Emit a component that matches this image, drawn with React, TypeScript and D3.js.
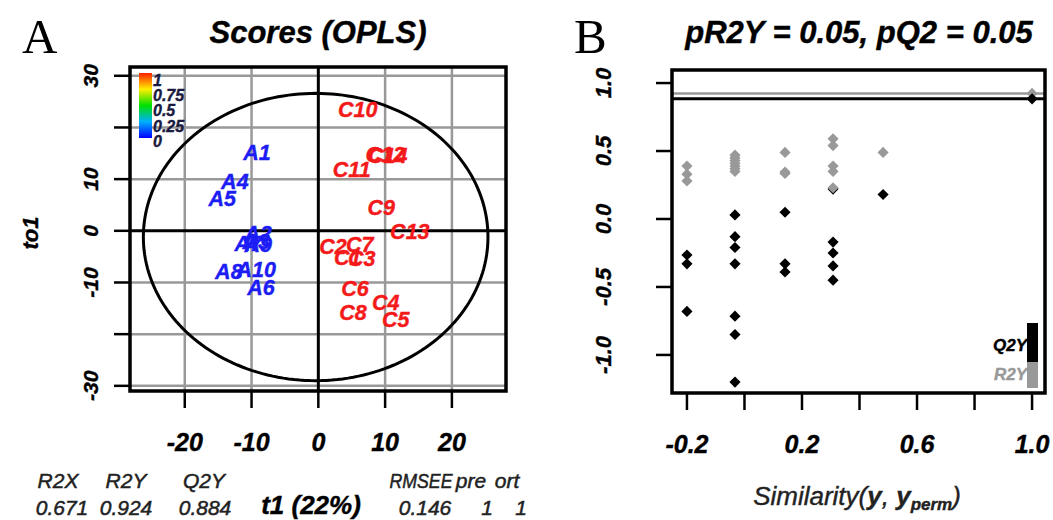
import React from "react";
import * as d3 from "d3";

// ---------- Panel A data (OPLS scores) ----------
const aNames = ["A1", "A2", "A3", "A4", "A5", "A6", "A7", "A8", "A9", "A10"];
const aT1 = [-9.2, -9.0, -9.3, -12.5, -14.4, -8.6, -10.5, -13.4, -9.0, -9.3];
const aTo1 = [15.1, -0.6, -2.2, 9.4, 6.2, -11.1, -2.6, -8.0, -2.7, -7.6];

const cNames = ["C1", "C2", "C3", "C4", "C5", "C6", "C7", "C8", "C9", "C10", "C11", "C12", "C13", "C14"];
const cT1 = [4.4, 2.2, 6.5, 10.1, 11.6, 5.5, 6.2, 5.2, 9.4, 5.9, 5.0, 10.0, 13.7, 10.4];
const cTo1 = [-5.3, -3.1, -5.5, -14.0, -17.3, -11.3, -2.7, -15.9, 4.4, 23.4, 11.8, 14.7, -0.2, 14.5];

const aXTicks = [-20, -10, 0, 10, 20];
const aYTicks = [30, 20, 10, 0, -10, -20, -30];
const aYTickLabels = ["30", "", "10", "0", "-10", "", "-30"];
const colorbarLabels = ["1", "0.75", "0.5", "0.25", "0"];
const ellipse = { cx: -0.4, cy: -1.2, rx: 25.8, ry: 27.8 };

const statHeaders = ["R2X", "R2Y", "Q2Y"];
const statValues = ["0.671", "0.924", "0.884"];
const rightHeaders = ["RMSEE", "pre", "ort"];
const rightValues = ["0.146", "1", "1"];

// ---------- Panel B data (permutation test) ----------
const permSim = [-0.2, -0.2, -0.2, -0.033, -0.033, -0.033, -0.033, -0.033, -0.033, -0.033, 0.141, 0.141, 0.141, 0.308, 0.308, 0.308, 0.308, 0.308, 0.482];
const permR2Y = [0.39, 0.33, 0.28, 0.47, 0.45, 0.43, 0.41, 0.39, 0.37, 0.35, 0.49, 0.345, 0.335, 0.59, 0.54, 0.39, 0.35, 0.23, 0.49];
const permQ2Y = [-0.265, -0.33, -0.68, 0.03, -0.13, -0.21, -0.33, -0.715, -0.85, -1.2, 0.05, -0.33, -0.39, 0.22, -0.17, -0.25, -0.345, -0.45, 0.18];
const modelSim = 1.0;
const modelR2Y = 0.924;
const modelQ2Y = 0.884;
const bXTicks = [-0.2, 0.0, 0.2, 0.4, 0.6, 0.8, 1.0];
const bXLabels = ["-0.2", "", "0.2", "", "0.6", "", "1.0"];
const bYTicks = [1.0, 0.5, 0.0, -0.5, -1.0];
const bYLabels = ["1.0", "0.5", "0.0", "-0.5", "-1.0"];

const SANS = "'Liberation Sans', Arial, sans-serif";
const SERIF = "'Liberation Serif', 'Times New Roman', serif";

type TP = {
  x: number; y: number; size: number; children: React.ReactNode;
  anchor?: string; weight?: string; italic?: boolean; fill?: string; rotate?: number; family?: string; baseline?: string;
  sw?: number; len?: number;
};
const T = ({ x, y, size, children, anchor = "middle", weight = "bold", italic = true, fill = "#000", rotate = 0, family = SANS, baseline, sw = 0.4, len }: TP) => (
  <text
    transform={`translate(${x},${y}) rotate(${rotate})`}
    fontSize={size}
    fontFamily={family}
    fontWeight={weight}
    fontStyle={italic ? "italic" : "normal"}
    textAnchor={anchor}
    fill={fill}
    stroke={fill}
    strokeWidth={sw}
    dominantBaseline={baseline}
    textLength={len}
    lengthAdjust={len ? "spacingAndGlyphs" : undefined}
  >
    {children}
  </text>
);

export default function App() {
  // Panel A scales
  const xA = d3.scaleLinear().domain([-28.2, 28.1]).range([130, 506]);
  const yA = d3.scaleLinear().domain([-31, 31.7]).range([391, 67]);
  const [aL, aR] = xA.range();
  const [aB, aT] = yA.range();

  const ellPts = d3.range(0, 201).map((i) => {
    const a = (i / 200) * Math.PI * 2;
    return [xA(ellipse.cx + ellipse.rx * Math.cos(a)), yA(ellipse.cy + ellipse.ry * Math.sin(a))] as [number, number];
  });
  const ellPath = d3.line()(ellPts) || "";

  // colour bar
  const cbY = d3.scaleLinear().domain([0, 1]).range([138, 73]);
  const cbColors = d3.scaleLinear<string>().domain([0, 0.25, 0.5, 0.75, 1]).range(["#0000ff", "#00b0ff", "#00e000", "#ffee00", "#ff2000"]);

  // Panel B scales
  const xB = d3.scaleLinear().domain([-0.252, 1.045]).range([672, 1045]);
  const yB = d3.scaleLinear().domain([-1.28, 1.096]).range([393, 70]);
  const [bL, bR] = xB.range();
  const [bB, bT] = yB.range();
  const diamond = d3.symbol().type(d3.symbolSquare).size(62)() || "";

  const Dia = ({ x, y, fill }: { x: number; y: number; fill: string }) => (
    <path d={diamond} transform={`translate(${x},${y}) rotate(45)`} fill={fill} />
  );

  return (
    <svg width={1053} height={520} style={{ position: "absolute", left: 0, top: 0, background: "#fff" }}>
      <defs>
        <linearGradient id="cb" x1="0" y1="1" x2="0" y2="0">
          {[0, 0.25, 0.5, 0.75, 1].map((v) => (
            <stop key={v} offset={v} stopColor={cbColors(v)} />
          ))}
        </linearGradient>
      </defs>
      <rect width={1053} height={520} fill="#fff" />

      {/* ================= Panel A ================= */}
      <T x={22} y={53} size={49} family={SERIF} weight="normal" italic={false} anchor="start" sw={0}>A</T>
      <T x={318} y={43} size={31}>Scores (OPLS)</T>

      {/* grid */}
      {aXTicks.filter((t) => t !== 0).map((t) => (
        <line key={"gx" + t} x1={xA(t)} x2={xA(t)} y1={aT} y2={aB} stroke="#999" strokeWidth={2.5} />
      ))}
      {aYTicks.filter((t) => t !== 0).map((t) => (
        <line key={"gy" + t} x1={aL} x2={aR} y1={yA(t)} y2={yA(t)} stroke="#999" strokeWidth={2.5} />
      ))}
      <line x1={xA(0)} x2={xA(0)} y1={aT} y2={aB} stroke="#000" strokeWidth={3} />
      <line x1={aL} x2={aR} y1={yA(0)} y2={yA(0)} stroke="#000" strokeWidth={3} />

      {/* ellipse */}
      <path d={ellPath} fill="none" stroke="#000" strokeWidth={3} />

      {/* colour bar */}
      <rect x={139} y={cbY(1)} width={13} height={cbY(0) - cbY(1)} fill="url(#cb)" />
      {colorbarLabels.map((l, i) => (
        <T key={l} x={153} y={80 + i * 15.2 + 6} size={16} anchor="start" fill="#1a1a40">{l}</T>
      ))}

      {/* box */}
      <rect x={aL} y={aT} width={aR - aL} height={aB - aT} fill="none" stroke="#000" strokeWidth={3.5} />

      {/* labels */}
      {aNames.map((n, i) => (
        <T key={n} x={xA(aT1[i])} y={yA(aTo1[i])} size={21.5} fill="#1c1cf5" baseline="central">{n}</T>
      ))}
      {cNames.map((n, i) => (
        <T key={n} x={xA(cT1[i])} y={yA(cTo1[i])} size={21.5} fill="#f51a1a" baseline="central">{n}</T>
      ))}

      {/* axes ticks */}
      {aXTicks.map((t) => (
        <g key={"xt" + t}>
          <line x1={xA(t)} x2={xA(t)} y1={aB} y2={aB + 17} stroke="#000" strokeWidth={2.5} />
          <T x={xA(t)} y={451} size={25}>{String(t)}</T>
        </g>
      ))}
      {aYTicks.map((t, i) => (
        <g key={"yt" + t}>
          <line x1={aL - 16} x2={aL} y1={yA(t)} y2={yA(t)} stroke="#000" strokeWidth={2.5} />
          {aYTickLabels[i] && (
            <T x={98} y={yA(t)} size={21} rotate={-90}>{aYTickLabels[i]}</T>
          )}
        </g>
      ))}
      <T x={38} y={233} size={22} rotate={-90}>to1</T>

      {/* stats */}
      {statHeaders.map((h, i) => (
        <T key={h} x={[58, 126, 204][i]} y={488} size={21} weight="normal" fill="#222" sw={0.5}>{h}</T>
      ))}
      {statValues.map((v, i) => (
        <T key={v + i} x={[62, 126, 205][i]} y={515} size={21} weight="normal" fill="#222" sw={0.5}>{v}</T>
      ))}
      <T x={311} y={514} size={26}>t1 (22%)</T>
      <T x={421} y={488} size={21} weight="normal" fill="#222" sw={0.5} len={63}>{rightHeaders[0]}</T>
      <T x={471} y={488} size={21} weight="normal" fill="#222" sw={0.5}>{rightHeaders[1]}</T>
      <T x={507} y={488} size={21} weight="normal" fill="#222" sw={0.5}>{rightHeaders[2]}</T>
      {rightValues.map((v, i) => (
        <T key={v + i} x={[425, 487, 521][i]} y={515} size={21} weight="normal" fill="#222" sw={0.5}>{v}</T>
      ))}

      {/* ================= Panel B ================= */}
      <T x={574} y={53} size={49} family={SERIF} weight="normal" italic={false} anchor="start" sw={0}>B</T>
      <T x={859} y={43} size={31}>pR2Y = 0.05, pQ2 = 0.05</T>

      {/* reference lines */}
      <line x1={bL} x2={bR} y1={yB(modelR2Y)} y2={yB(modelR2Y)} stroke="#fff" strokeWidth={5} />
      <line x1={bL} x2={bR} y1={yB(modelR2Y)} y2={yB(modelR2Y)} stroke="#999" strokeWidth={2.5} />
      <line x1={bL} x2={bR} y1={yB(modelQ2Y)} y2={yB(modelQ2Y)} stroke="#000" strokeWidth={3} />

      {/* points */}
      {permSim.map((s, i) => (
        <Dia key={"q" + i} x={xB(s)} y={yB(permQ2Y[i])} fill="#000" />
      ))}
      {permSim.map((s, i) => (
        <Dia key={"r" + i} x={xB(s)} y={yB(permR2Y[i])} fill="#999" />
      ))}
      <Dia x={xB(modelSim)} y={yB(modelR2Y)} fill="#999" />
      <Dia x={xB(modelSim)} y={yB(modelQ2Y)} fill="#000" />

      {/* legend */}
      <rect x={1027} y={323} width={11} height={39} fill="#000" />
      <rect x={1027} y={362} width={11} height={26} fill="#999" />
      <T x={1027} y={351} size={17} anchor="end">Q2Y</T>
      <T x={1027} y={380} size={17} anchor="end" fill="#999">R2Y</T>

      {/* box */}
      <rect x={bL} y={bT} width={bR - bL} height={bB - bT} fill="none" stroke="#000" strokeWidth={3.5} />

      {bXTicks.map((t, i) => (
        <g key={"bx" + i}>
          <line x1={xB(t)} x2={xB(t)} y1={bB} y2={bB + 17} stroke="#000" strokeWidth={2.5} />
          {bXLabels[i] && <T x={xB(t)} y={453} size={25}>{bXLabels[i]}</T>}
        </g>
      ))}
      {bYTicks.map((t, i) => (
        <g key={"by" + i}>
          <line x1={bL - 16} x2={bL} y1={yB(t)} y2={yB(t)} stroke="#000" strokeWidth={2.5} />
          <T x={611} y={yB(t)} size={22} rotate={-90}>{bYLabels[i]}</T>
        </g>
      ))}

      <text x={857} y={505} fontSize={26} fontFamily={SANS} fontStyle="italic" textAnchor="middle" fill="#222" stroke="#222" strokeWidth={0.4}>
        <tspan>Similarity(</tspan>
        <tspan fontWeight="bold">y</tspan>
        <tspan>, </tspan>
        <tspan fontWeight="bold">y</tspan>
        <tspan fontWeight="bold" fontSize={17} dy={5}>perm</tspan>
        <tspan dy={-5}>)</tspan>
      </text>
    </svg>
  );
}
